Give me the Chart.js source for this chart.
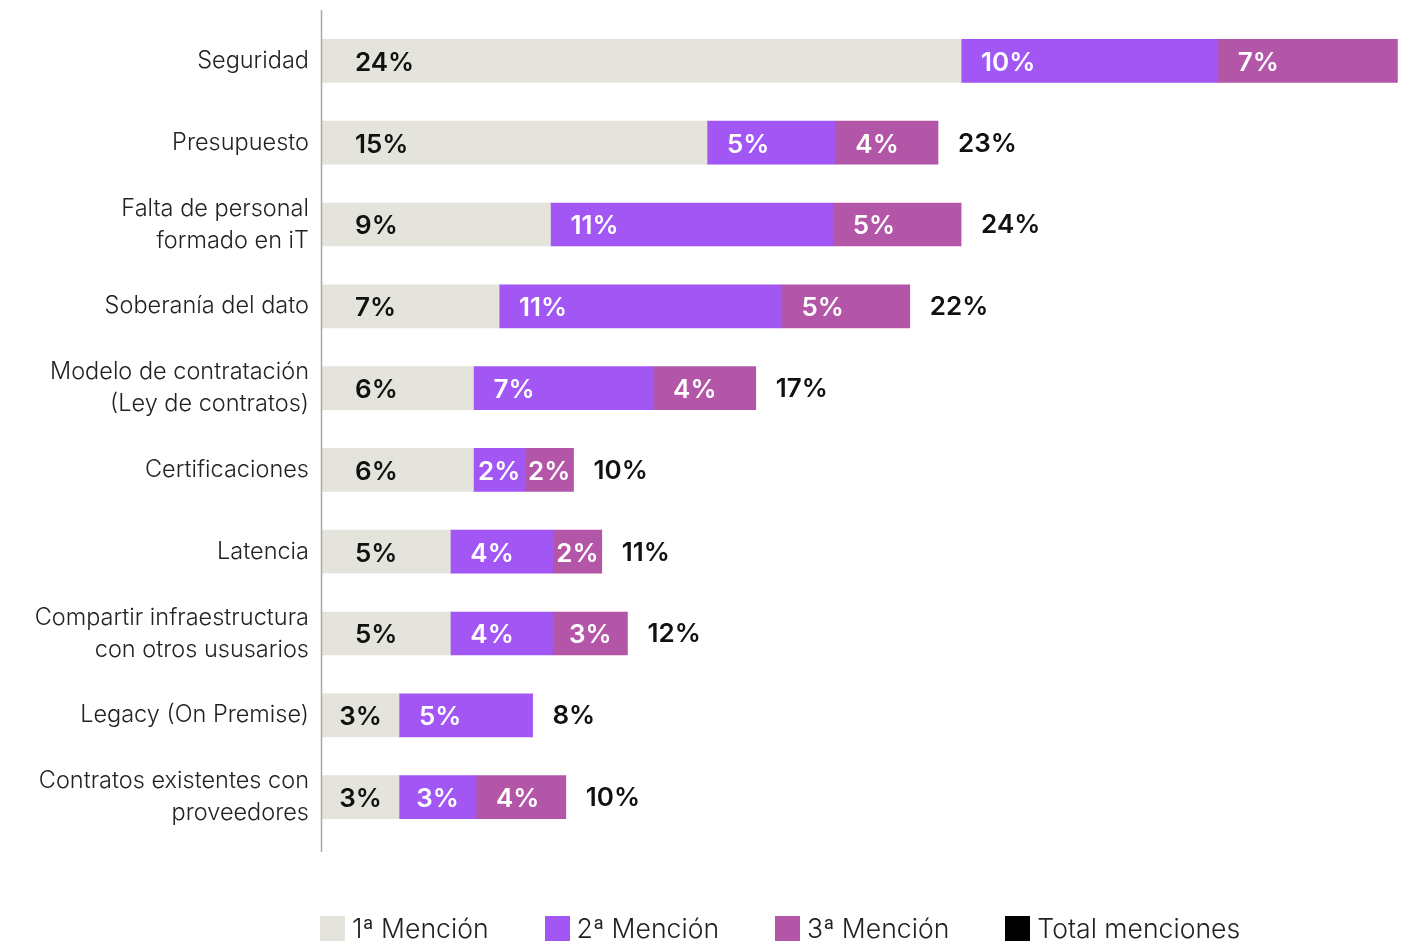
<!DOCTYPE html>
<html>
<head>
<meta charset="utf-8">
<script src="https://cdn.jsdelivr.net/npm/chart.js@4.4.1/dist/chart.umd.min.js"></script>
<style>
  html, body { margin: 0; padding: 0; background: #fff; }
  #wrap { position: relative; width: 1404px; height: 943px; }
  #legend { position: absolute; left: 320px; top: 912px; display: flex; align-items: center;
    font-family: Inter, "Noto Sans", sans-serif; font-weight: 300; font-size: 26.6px; color: #222; }
  #legend .item { display: flex; align-items: center; margin-right: 56px; }
  #legend .box { width: 25px; height: 25px; margin-right: 7px; }
</style>
</head>
<body>
<div id="wrap">
  <canvas id="chart" width="1404" height="943"></canvas>
  <div id="legend"></div>
</div>
<script>
var CATEGORIES = [
    'Seguridad', 'Presupuesto', ['Falta de personal', 'formado en iT'], 'Soberanía del dato',
    ['Modelo de contratación', '(Ley de contratos)'], 'Certificaciones', 'Latencia',
    ['Compartir infraestructura', 'con otros ususarios'], 'Legacy (On Premise)',
    ['Contratos existentes con', 'proveedores']
];
// bar lengths
var FIRST  = [24.9, 15.0, 8.9, 6.9, 5.9, 5.9, 5.0, 5.0, 3.0, 3.0];
var SECOND = [10.0, 5.0, 11.0, 11.0, 7.0, 2.0, 4.0, 4.0, 5.2, 3.0];
var THIRD  = [7.0, 4.0, 5.0, 5.0, 4.0, 1.9, 1.9, 2.9, 0, 3.5];
// printed percentages
var FIRST_PCT  = [24, 15, 9, 7, 6, 6, 5, 5, 3, 3];
var SECOND_PCT = [10, 5, 11, 11, 7, 2, 4, 4, 5, 3];
var THIRD_PCT  = [7, 4, 5, 5, 4, 2, 2, 3, null, 4];
var TOTAL_PCT  = [null, 23, 24, 22, 17, 10, 11, 12, 8, 10];

var SERIES = ['1ª Mención', '2ª Mención', '3ª Mención', 'Total menciones'];
var COLORS = ['#e5e4dc', '#a257f4', '#b456a8', '#000000'];
var FONT = 'Inter, "Noto Sans", sans-serif';

var barLabels = {
    id: 'barLabels',
    afterDatasetsDraw: function (chart) {
        var ctx = chart.ctx;
        var pcts = [FIRST_PCT, SECOND_PCT, THIRD_PCT];
        ctx.save();
        ctx.font = '600 26px ' + FONT;
        ctx.textBaseline = 'middle';
        ctx.textAlign = 'left';
        pcts.forEach(function (arr, i) {
            var meta = chart.getDatasetMeta(i);
            meta.data.forEach(function (el, j) {
                if (arr[j] == null) return;
                var txt = arr[j] + '%';
                var w = el.x - el.base;
                var tw = ctx.measureText(txt).width;
                var pad = i === 0 ? Math.min(33, (w - tw) / 2) : Math.max(3, Math.min(20, (w - tw) / 2));
                ctx.fillStyle = i === 0 ? '#111' : '#fff';
                ctx.fillText(txt, el.base + pad, el.y + 2);
            });
        });
        // totals after the last visible segment
        ctx.fillStyle = '#111';
        TOTAL_PCT.forEach(function (t, j) {
            if (t == null) return;
            var end = 0;
            for (var i = 0; i < 3; i++) {
                var el = chart.getDatasetMeta(i).data[j];
                if (el.x > end) end = el.x;
            }
            ctx.fillText(t + '%', end + 20, chart.getDatasetMeta(0).data[j].y + 1);
        });
        // vertical axis line
        ctx.strokeStyle = '#aaa9a2';
        ctx.lineWidth = 1.5;
        ctx.beginPath();
        ctx.moveTo(chart.chartArea.left - 0.5, 10);
        ctx.lineTo(chart.chartArea.left - 0.5, 852);
        ctx.stroke();
        ctx.restore();
    }
};

new Chart(document.getElementById('chart'), {
    type: 'bar',
    data: {
        labels: CATEGORIES,
        datasets: [
            { label: SERIES[0], data: FIRST, backgroundColor: COLORS[0] },
            { label: SERIES[1], data: SECOND, backgroundColor: COLORS[1] },
            { label: SERIES[2], data: THIRD, backgroundColor: COLORS[2] }
        ]
    },
    options: {
        indexAxis: 'y',
        responsive: false,
        animation: false,
        barThickness: 43,
        layout: { padding: { top: 20, right: 4, bottom: 105, left: 0 } },
        plugins: { legend: { display: false }, tooltip: { enabled: false } },
        scales: {
            x: { stacked: true, display: false, min: 0, max: 42 },
            y: {
                stacked: true,
                grid: { display: false },
                border: { display: false },
                afterFit: function (s) { s.width = 322; s.paddingTop = 0; s.paddingBottom = 0; },
                ticks: { color: '#222', padding: 5, font: { family: FONT, size: 23.5, weight: 300, lineHeight: 1.36 } }
            }
        }
    },
    plugins: [barLabels]
});

var lg = document.getElementById('legend');
SERIES.forEach(function (name, i) {
    lg.innerHTML += '<div class="item"><div class="box" style="background:' + COLORS[i] + '"></div><span>' + name + '</span></div>';
});
</script>
</body>
</html>
